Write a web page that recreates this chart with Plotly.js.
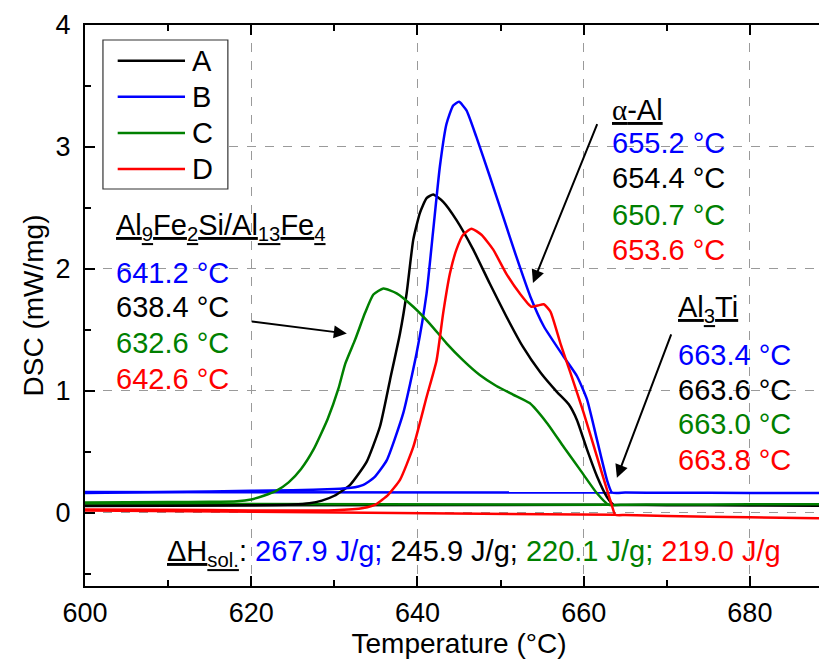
<!DOCTYPE html>
<html>
<head>
<meta charset="utf-8">
<script src="https://cdn.plot.ly/plotly-3.0.1.min.js"></script>
<style>
html,body{margin:0;padding:0;overflow:hidden;background:#fff;}
#chart{width:834px;height:659px;}
</style>
</head>
<body>
<div id="chart"></div>
<script>
// ---- series data (Temperature °C, DSC mW/mg) ----
const names = ['A', 'B', 'C', 'D'];
const colors = ['#000000', '#0000ff', '#008000', '#ff0000'];

const tA = [600, 610, 620, 625, 627, 628.5, 630, 631.9, 633.9, 635.5, 636.7, 637.9, 638.7, 639.5, 640.3, 641.1, 641.9, 643.1, 644.7, 646.7, 648.7, 650.7, 652.7, 654.8, 656.8, 658.2, 659.2, 660.4, 661.6, 662.8, 663.6, 665, 670, 680, 690];
const dA = [0.055, 0.058, 0.062, 0.068, 0.078, 0.1, 0.14, 0.23, 0.42, 0.71, 1.09, 1.47, 1.80, 2.24, 2.46, 2.58, 2.61, 2.55, 2.40, 2.16, 1.88, 1.61, 1.36, 1.15, 0.99, 0.89, 0.76, 0.52, 0.30, 0.13, 0.066, 0.065, 0.063, 0.06, 0.058];

const tB = [600, 610, 620, 625, 630, 632, 633.5, 634.8, 636.3, 638.3, 639.9, 641.1, 641.9, 642.7, 643.5, 644.3, 645.0, 645.9, 647.1, 648.7, 650.3, 651.9, 653.6, 655.2, 657.6, 659.2, 660.4, 661.6, 662.8, 663.4, 665, 670, 680, 690];
const dB = [0.162, 0.17, 0.18, 0.185, 0.195, 0.205, 0.23, 0.29, 0.43, 0.82, 1.31, 1.80, 2.32, 2.84, 3.19, 3.34, 3.37, 3.30, 3.08, 2.76, 2.43, 2.10, 1.77, 1.53, 1.28, 1.12, 0.93, 0.60, 0.27, 0.167, 0.166, 0.165, 0.163, 0.162];

const tC = [600, 610, 615, 618.3, 620, 621.5, 623, 624.5, 626, 627.5, 629.2, 630.5, 631.3, 632.5, 633.7, 634.7, 635.9, 637.5, 639.5, 641.5, 643.5, 645.5, 647.5, 649.5, 651.5, 653.5, 655.6, 657.6, 659.6, 661.6, 663.0, 665, 670, 680, 690];
const dC = [0.085, 0.088, 0.09, 0.095, 0.11, 0.14, 0.18, 0.25, 0.36, 0.52, 0.77, 1.02, 1.22, 1.42, 1.64, 1.79, 1.84, 1.80, 1.69, 1.55, 1.39, 1.25, 1.13, 1.04, 0.97, 0.90, 0.735, 0.54, 0.35, 0.16, 0.066, 0.067, 0.068, 0.07, 0.07];

const tD = [600, 610, 620, 630, 633.5, 635, 636.5, 637.9, 639.5, 641.1, 642.3, 643.1, 643.9, 644.7, 645.5, 646.5, 647.7, 649.1, 650.7, 652.3, 653.7, 654.5, 655.2, 656.0, 657.2, 658.4, 660.0, 661.6, 662.8, 663.4, 663.8, 665, 670, 680, 690];
const dD = [0.028, 0.025, 0.02, 0.022, 0.04, 0.07, 0.15, 0.27, 0.54, 0.95, 1.25, 1.64, 1.96, 2.16, 2.28, 2.33, 2.28, 2.16, 1.96, 1.80, 1.69, 1.70, 1.71, 1.65, 1.39, 1.15, 0.82, 0.46, 0.19, 0.06, -0.016, -0.018, -0.025, -0.037, -0.046];

// integration baselines (start/end)
const baseT = [[600, 663.6], [600, 663.4], [600, 663.0], [600, 663.8]];
const baseD = [[0.06, 0.066], [0.17, 0.167], [0.076, 0.066], [0.02, -0.016]];

// annotation values (order: B, A, C, D as in the figure)
const labelOrder = [1, 0, 2, 3];
const feTemps = ['641.2', '638.4', '632.6', '642.6'];
const alphaTemps = ['655.2', '654.4', '650.7', '653.6'];
const tiTemps = ['663.4', '663.6', '663.0', '663.8'];
const enthalpy = ['267.9', '245.9', '220.1', '219.0'];

const FONT = 'Liberation Sans, Arial, sans-serif';
const FS = 29;

const tSeries = [tA, tB, tC, tD];
const dSeries = [dA, dB, dC, dD];

const traces = [];
for (let i = 0; i < 4; i++) {
  traces.push({x: baseT[i], y: baseD[i], mode: 'lines', line: {color: colors[i], width: 2.5},
    showlegend: false, hoverinfo: 'skip'});
}
for (let i = 0; i < 4; i++) {
  traces.push({x: tSeries[i], y: dSeries[i], name: names[i], mode: 'lines',
    line: {color: colors[i], width: 2.5, shape: 'spline', smoothing: 0.5}, showlegend: false});
}

const annotations = [];
const shapes = [];

function textBlock(x, yHead, heading, temps, dy) {
  annotations.push({xref: 'x', yref: 'y', x: x, y: yHead, xanchor: 'left', yanchor: 'middle',
    text: heading, showarrow: false, font: {family: FONT, size: FS, color: '#000'}});
  labelOrder.forEach((si, k) => {
    annotations.push({xref: 'x', yref: 'y', x: x, y: yHead - dy[k], xanchor: 'left', yanchor: 'middle',
      text: temps[k] + ' °C', showarrow: false, font: {family: FONT, size: FS, color: colors[si]}});
  });
}

textBlock(603.5, 2.345, '<u>Al<sub>9</sub>Fe<sub>2</sub>Si/Al<sub>13</sub>Fe<sub>4</sub></u>', feTemps, [0.375, 0.66, 0.95, 1.25]);
textBlock(663.15, 3.30, '<u><span style="font-family:Liberation Serif">α</span>-Al</u>', alphaTemps, [0.27, 0.555, 0.86, 1.145]);
textBlock(671.05, 1.675, '<u>Al<sub>3</sub>Ti</u>', tiTemps, [0.38, 0.665, 0.95, 1.24]);

// enthalpy line
let hText = '<u>ΔH<sub>sol.</sub></u>: ';
labelOrder.forEach((si, k) => {
  hText += '<span style="color:' + colors[si] + '">' + enthalpy[k] + ' J/g' + (k < 3 ? ';' : '') + '</span>' + (k < 3 ? ' ' : '');
});
annotations.push({xref: 'x', yref: 'y', x: 609.6, y: -0.33, xanchor: 'left', yanchor: 'middle',
  text: hText, showarrow: false, font: {family: FONT, size: FS, color: '#000'}});

// arrows
const arrows = [
  {x: 631.5, y: 1.47, ax: 619.9, ay: 1.57},
  {x: 653.9, y: 1.885, ax: 661.7, ay: 3.20},
  {x: 664.0, y: 0.287, ax: 670.6, ay: 1.475}
];
arrows.forEach(a => annotations.push({xref: 'x', yref: 'y', axref: 'x', ayref: 'y', x: a.x, y: a.y, ax: a.ax, ay: a.ay,
  text: '', showarrow: true, arrowhead: 2, arrowsize: 1.3, arrowwidth: 2, arrowcolor: '#000', standoff: 0}));

// legend (manual, to reproduce the long sample lines)
shapes.push({type: 'rect', xref: 'paper', yref: 'paper', x0: 0.024, x1: 0.191, y0: 0.7077, y1: 0.9733,
  line: {color: '#333', width: 1.2}, fillcolor: '#fff', layer: 'above'});
names.forEach((n, i) => {
  const yy = 0.9364 - i * 0.0644;
  shapes.push({type: 'line', xref: 'paper', yref: 'paper', x0: 0.0437, x1: 0.1337, y0: yy, y1: yy,
    line: {color: colors[i], width: 2.5}, layer: 'above'});
  annotations.push({xref: 'paper', yref: 'paper', x: 0.141, y: yy, xanchor: 'left', yanchor: 'middle',
    text: n, showarrow: false, font: {family: FONT, size: FS, color: '#000'}});
});

const axisCommon = {
  showline: true, linecolor: '#000', linewidth: 2, mirror: 'ticks',
  ticks: 'inside', ticklen: 10, tickwidth: 2, tickcolor: '#000',
  showgrid: true, gridcolor: '#9a9a9a', gridwidth: 1, griddash: 'dash',
  zeroline: false, tickfont: {family: FONT, size: 27, color: '#000'}
};

const layout = {
  width: 834, height: 659,
  margin: {l: 85, r: 1, t: 25, b: 73},
  paper_bgcolor: '#fff', plot_bgcolor: '#fff',
  font: {family: FONT, color: '#000'},
  showlegend: false,
  xaxis: Object.assign({}, axisCommon, {
    range: [600, 690], tickvals: [600, 620, 640, 660, 680],
    minor: {dtick: 10, tick0: 600, ticks: 'inside', ticklen: 6, tickwidth: 2, tickcolor: '#000', showgrid: false},
    ticklabelstandoff: 2,
    title: {text: 'Temperature (°C)', font: {family: FONT, size: 28, color: '#000'}, standoff: 3}
  }),
  yaxis: Object.assign({}, axisCommon, {
    range: [-0.6, 4], tickvals: [0, 1, 2, 3, 4],
    minor: {dtick: 0.5, tick0: 0, ticks: 'inside', ticklen: 6, tickwidth: 2, tickcolor: '#000', showgrid: false},
    ticklabelstandoff: 7,
    title: {text: 'DSC (mW/mg)', font: {family: FONT, size: 28, color: '#000'}, standoff: 4}
  }),
  annotations: annotations,
  shapes: shapes
};

Plotly.newPlot('chart', traces, layout, {staticPlot: true, displayModeBar: false});
</script>
</body>
</html>
